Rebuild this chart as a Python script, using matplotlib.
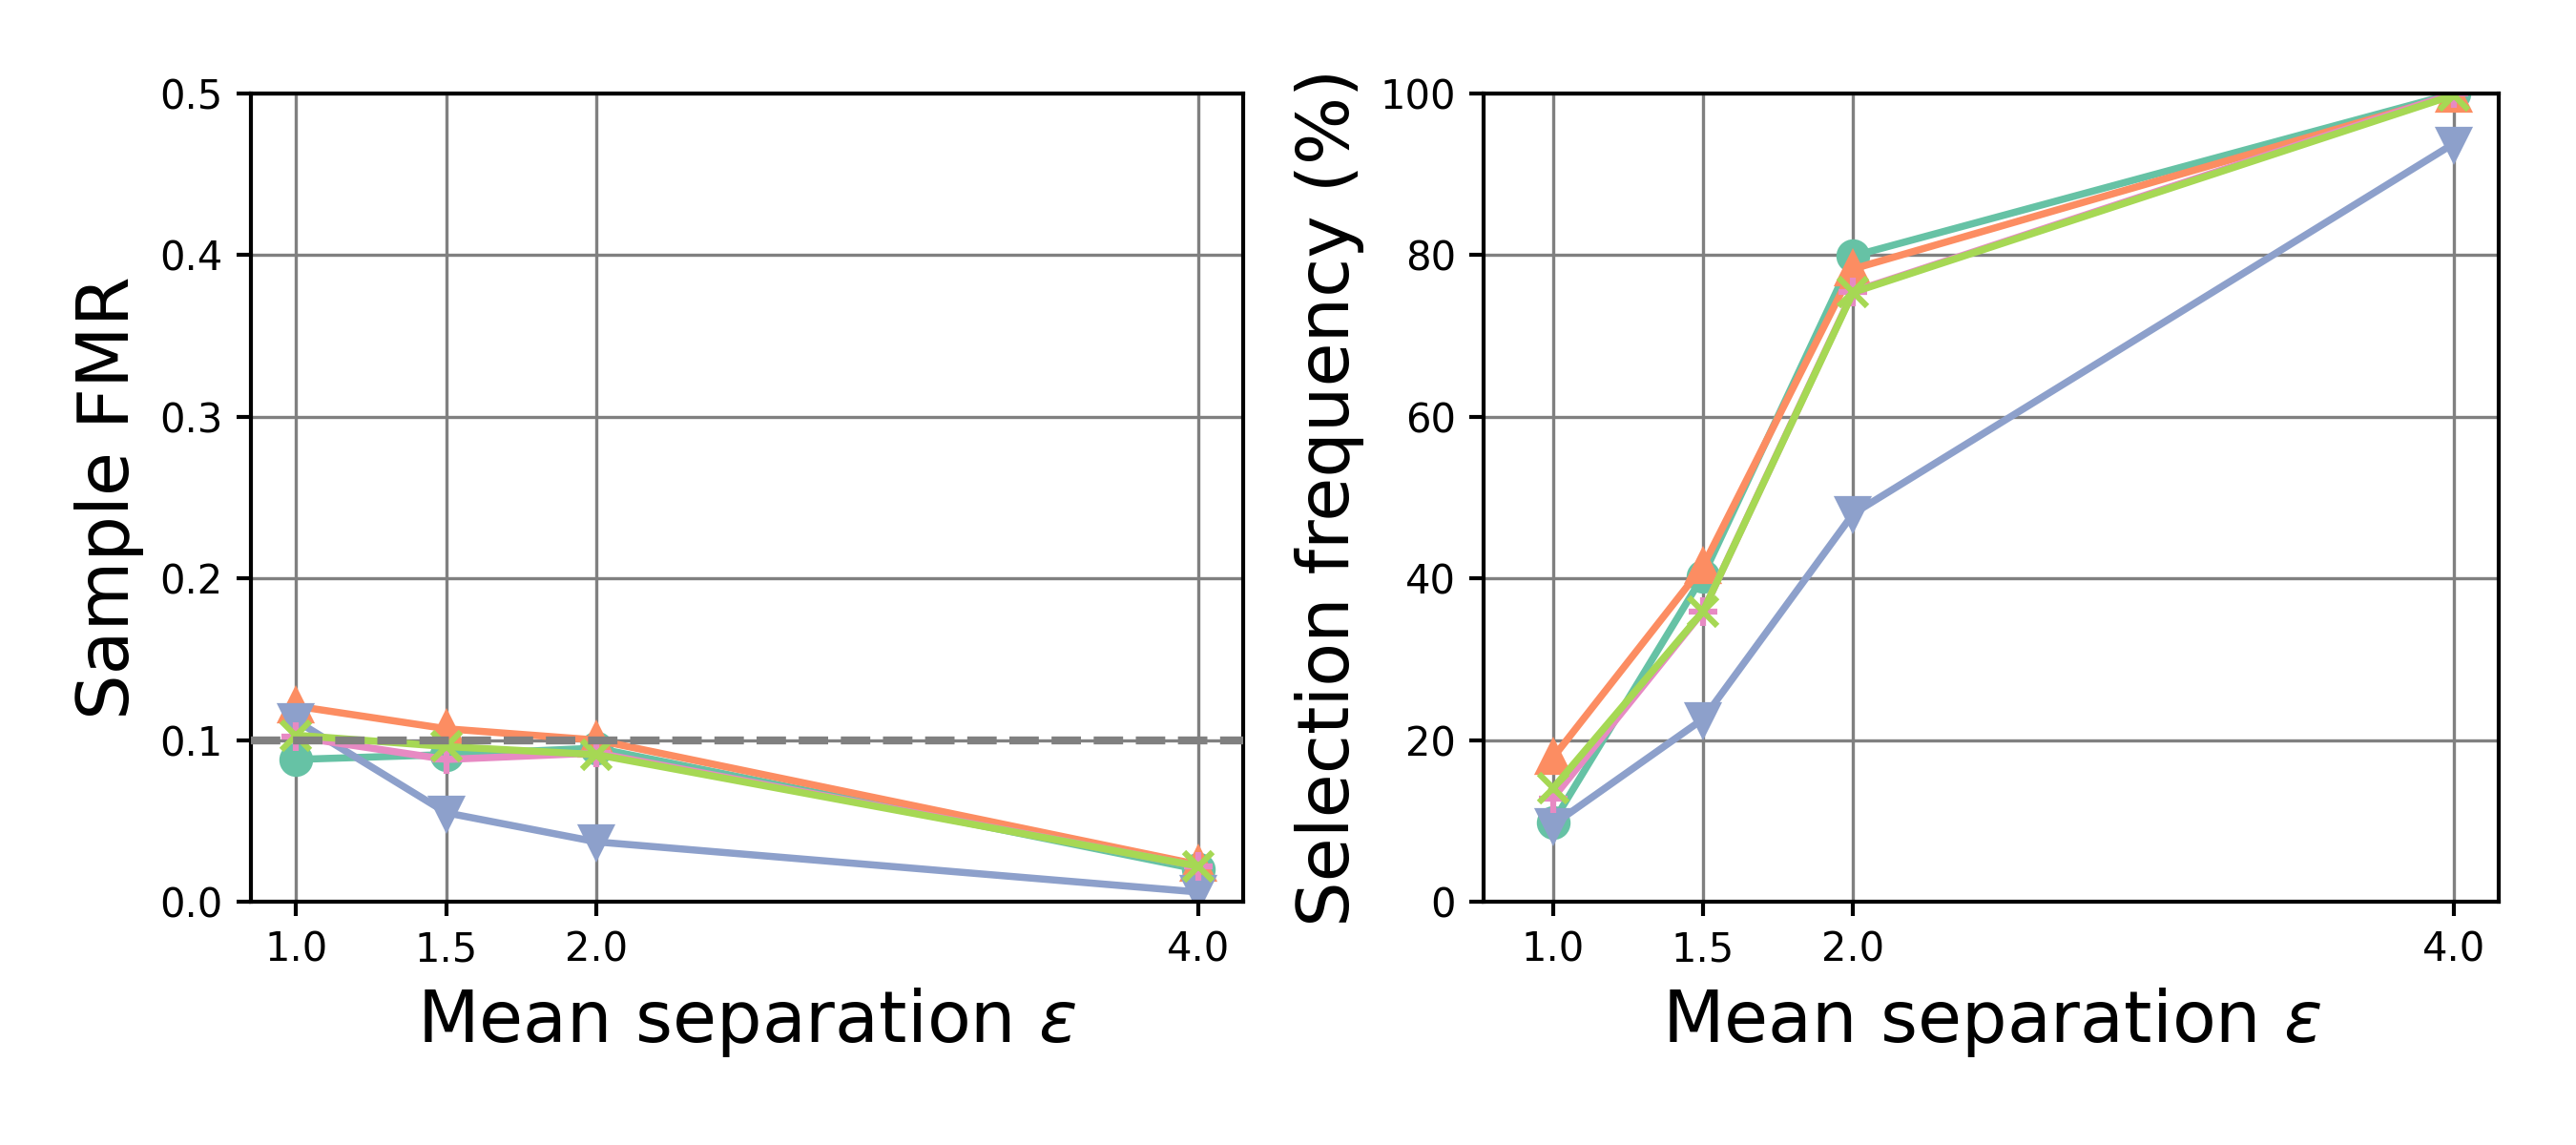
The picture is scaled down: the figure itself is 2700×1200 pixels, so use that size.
import matplotlib
matplotlib.use("Agg")
from matplotlib import pyplot as plt

# mean separation values on the x axis
eps = [1.0, 1.5, 2.0, 4.0]

# sample FMR per method (left panel)
fmr_circle = [0.088, 0.091, 0.095, 0.020]
fmr_up = [0.121, 0.107, 0.100, 0.023]
fmr_down = [0.112, 0.055, 0.037, 0.006]
fmr_plus = [0.102, 0.088, 0.092, 0.022]
fmr_x = [0.103, 0.096, 0.091, 0.022]

# selection frequency in percent (right panel)
sel_circle = [9.8, 40.3, 79.9, 100.0]
sel_up = [17.8, 41.5, 78.3, 99.8]
sel_down = [9.5, 22.6, 48.0, 93.8]
sel_plus = [12.8, 35.9, 75.5, 100.0]
sel_x = [14.0, 35.9, 75.4, 99.8]

target_fmr = 0.1

colors = ["#66c2a5", "#fc8d62", "#8da0cb", "#e78ac3", "#a6d854"]
markers = ["o", "^", "v", "+", "x"]

fig = plt.figure(figsize=(9, 4), dpi=300)
ax1 = fig.add_axes([0.0974, 0.2125, 0.3852, 0.7058])
ax2 = fig.add_axes([0.5760, 0.2125, 0.3940, 0.7058])

left = [fmr_circle, fmr_up, fmr_down, fmr_plus, fmr_x]
right = [sel_circle, sel_up, sel_down, sel_plus, sel_x]

for vals, c, m in zip(left, colors, markers):
    ax1.plot(eps, vals, color=c, marker=m, markersize=7, linewidth=1.8,
             markeredgewidth=1.5)
ax1.axhline(target_fmr, color="gray", linestyle="--", linewidth=2, zorder=5)

for vals, c, m in zip(right, colors, markers):
    ax2.plot(eps, vals, color=c, marker=m, markersize=7, linewidth=1.8,
             markeredgewidth=1.5)

ax1.set_ylim(0, 0.5)
ax2.set_ylim(0, 100)
ax2.set_xlim(0.77, 4.15)
ax1.set_ylabel("Sample FMR", fontsize=18)
ax2.set_ylabel("Selection frequency (%)", fontsize=18)

for ax in (ax1, ax2):
    ax.set_xticks(eps)
    ax.set_xticklabels([f"{e:.1f}" for e in eps])
    ax.set_xlabel(r"Mean separation $\epsilon$", fontsize=18)
    ax.tick_params(labelsize=10, width=1.0)
    ax.grid(True, color="gray", linewidth=0.8)
    ax.set_axisbelow(True)
    for sp in ax.spines.values():
        sp.set_linewidth(1.0)

plt.savefig("out.png", dpi=300)
plt.close(fig)
